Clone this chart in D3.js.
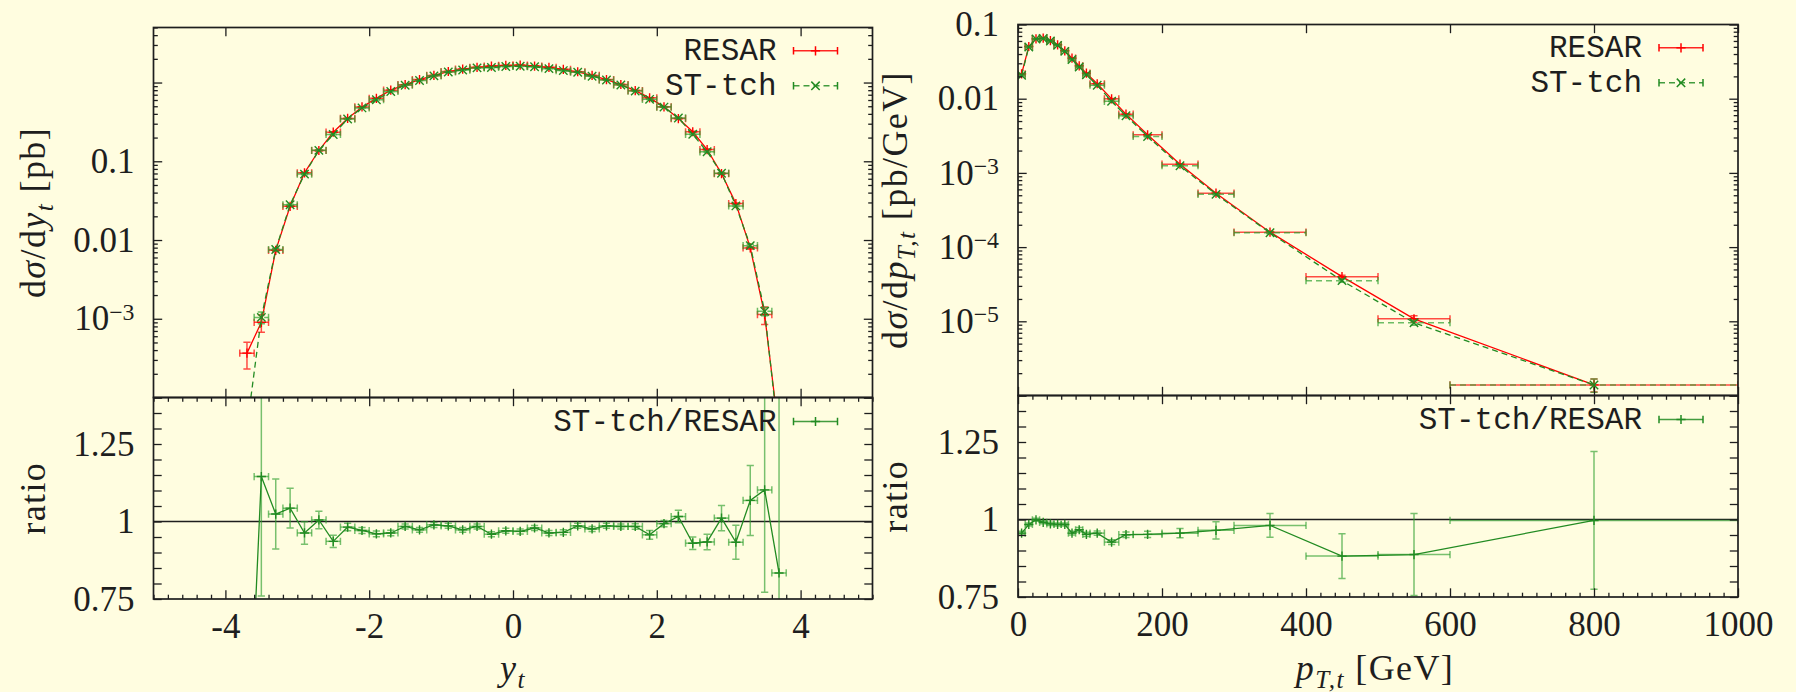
<!DOCTYPE html>
<html>
<head>
<meta charset="utf-8">
<script src="https://cdn.jsdelivr.net/npm/d3@7"></script>
<style>
  html, body { margin: 0; padding: 0; background: #fffde0; }
  svg { display: block; }
</style>
</head>
<body>
<svg id="chart" width="1796" height="692"></svg>
<script>
// ---------- rapidity distribution (bins of width 0.2) ----------
const rapCenters = [-3.7,-3.5,-3.3,-3.1,-2.9,-2.7,-2.5,-2.3,-2.1,-1.9,-1.7,-1.5,-1.3,-1.1,-0.9,-0.7,-0.5,-0.3,-0.1,
                    0.1,0.3,0.5,0.7,0.9,1.1,1.3,1.5,1.7,1.9,2.1,2.3,2.5,2.7,2.9,3.1,3.3,3.5,3.7];
const rapHalfWidth = 0.1;
const rapResar = [3.66e-4,9.0e-4,7.4e-3,0.0268,0.0713,0.137,0.234,0.350,0.490,0.630,0.800,0.940,1.09,1.23,1.38,1.48,1.56,1.62,1.65,
                  1.66,1.62,1.56,1.47,1.37,1.23,1.09,0.944,0.791,0.639,0.491,0.349,0.237,0.141,0.0698,0.0290,7.94e-3,1.13e-3,3.4e-5];
const rapResarErr = [0.37,0.25,0.04,0.02,0.015,0.012,0.01,0.008,0.006,0.005,0.005,0.005,0.005,0.005,0.005,0.005,0.005,0.005,0.005,
                     0.005,0.005,0.005,0.005,0.005,0.005,0.005,0.005,0.005,0.006,0.008,0.01,0.012,0.015,0.02,0.02,0.04,0.25,0.5];
const rapSttch = [4.2e-5,1.04e-3,7.58e-3,0.0280,0.0687,0.1377,0.219,0.344,0.476,0.605,0.770,0.925,1.061,1.216,1.361,1.440,1.535,1.554,1.600,
                  1.607,1.586,1.502,1.419,1.351,1.200,1.075,0.929,0.778,0.612,0.488,0.355,0.220,0.132,0.0706,0.0271,8.48e-3,1.245e-3,2.84e-5];
const rapSttchErr = [0.5,0.17,0.04,0.02,0.015,0.012,0.01,0.008,0.006,0.005,0.005,0.005,0.005,0.005,0.005,0.005,0.005,0.005,0.005,
                     0.005,0.005,0.005,0.005,0.005,0.005,0.005,0.005,0.005,0.006,0.008,0.01,0.012,0.015,0.02,0.02,0.04,0.12,0.5];
const rapRatio = [0.115,1.145,1.024,1.043,0.963,1.005,0.936,0.982,0.971,0.960,0.963,0.984,0.973,0.989,0.986,0.973,0.984,0.959,0.970,
                  0.968,0.979,0.963,0.965,0.986,0.976,0.986,0.984,0.984,0.957,0.993,1.016,0.930,0.934,1.011,0.933,1.068,1.102,0.834];
const rapRatioErr = [0.1,0.385,0.113,0.064,0.036,0.028,0.02,0.012,0.01,0.009,0.009,0.008,0.008,0.008,0.008,0.008,0.008,0.008,0.008,
                     0.008,0.008,0.008,0.008,0.008,0.008,0.008,0.008,0.009,0.014,0.01,0.02,0.02,0.025,0.041,0.055,0.113,0.33,1.0];

// ---------- transverse-momentum distribution ----------
const ptLow     = [0,10,20,30,40,50,60,70,80,90,100,120,140,160,200,250,300,400,500,600];
const ptHigh    = [10,20,30,40,50,60,70,80,90,100,120,140,160,200,250,300,400,500,600,1000];
const ptCenters = [5,15,25,35,45,55,65,75,85,95,110,130,150,180,225,275,350,450,550,800];
const ptResar = [0.0216,0.0505,0.0640,0.0655,0.0608,0.0533,0.0442,0.0352,0.0277,0.0221,0.0159,0.00996,0.00619,0.00326,
                 0.00131,5.33e-4,1.59e-4,4.0e-5,1.08e-5,1.39e-6];
const ptResarErr = [0.01,0.005,0.005,0.005,0.005,0.005,0.005,0.006,0.007,0.008,0.008,0.01,0.01,0.012,0.015,0.02,0.025,0.04,0.1,0.2];
const ptSttch = [0.0206,0.0497,0.0639,0.0649,0.0600,0.0524,0.0435,0.0337,0.0268,0.0210,0.0152,0.00923,0.00589,0.00310,
                 0.00125,5.14e-4,1.56e-4,3.53e-5,9.58e-6,1.386e-6];
const ptSttchErr = [0.01,0.005,0.005,0.005,0.005,0.005,0.005,0.006,0.007,0.008,0.008,0.01,0.01,0.012,0.015,0.02,0.03,0.05,0.08,0.2];
const ptRatio = [0.956,0.984,0.999,0.991,0.986,0.984,0.984,0.956,0.967,0.952,0.956,0.927,0.951,0.952,0.956,0.965,0.981,0.882,0.887,0.997];
const ptRatioErr = [0.006,0.005,0.005,0.005,0.005,0.005,0.005,0.006,0.007,0.007,0.007,0.008,0.009,0.01,0.015,0.028,0.038,0.072,0.132,0.222];

// ---------- axis ticks and labels ----------
const rapTicks = [-4,-2,0,2,4];
const rapTickLabels = ["-4","-2","0","2","4"];
const ptTicks = [0,200,400,600,800,1000];
const ptTickLabels = ["0","200","400","600","800","1000"];
const rapXsDecades = [1e-4,1e-3,0.01,0.1,1];
const rapXsTicks = [0.1,0.01,0.001];
const rapXsTickLabels = ["0.1","0.01","10^\u22123"];
const ptXsDecades = [1e-6,1e-5,1e-4,1e-3,0.01,0.1];
const ptXsTicks = [0.1,0.01,1e-3,1e-4,1e-5];
const ptXsTickLabels = ["0.1","0.01","10^\u22123","10^\u22124","10^\u22125"];
const ratioTicks = [0.75,1,1.25];
const ratioTickLabels = ["0.75","1","1.25"];

// ---------- styling ----------
const SERIF = "Liberation Serif, serif";
const MONO = "Liberation Mono, monospace";
const INK = "#1e1e1e";
const RED = "#ff0000";
const GREEN = "#228b22";
const BG = "#fffde0";

const svg = d3.select("#chart");
svg.append("rect").attr("width", 1796).attr("height", 692).attr("fill", BG);
const defs = svg.append("defs");

const LEFT  = {x0: 153.5, x1: 872.5, top: 27.5, mid: 397.5, bot: 599};
const RIGHT = {x0: 1018,  x1: 1738,  top: 24.5, mid: 395.5, bot: 597};

const xRap = d3.scaleLinear().domain([-5, 5]).range([LEFT.x0, LEFT.x1]);
const yRapXs = d3.scaleLog().domain([1e-4, 5]).range([LEFT.mid, LEFT.top]);
const yRapRatio = d3.scaleLinear().domain([0.75, 1.4]).range([LEFT.bot, LEFT.mid]);
const xPt = d3.scaleLinear().domain([0, 1000]).range([RIGHT.x0, RIGHT.x1]);
const yPtXs = d3.scaleLog().domain([1e-6, 0.1]).range([RIGHT.mid, RIGHT.top]);
const yPtRatio = d3.scaleLinear().domain([0.75, 1.4]).range([RIGHT.bot, RIGHT.mid]);

const MAJOR = 8.7, MINOR = 4.3;

function labeler(values, labels) {
  return d => { const i = values.indexOf(d); return i < 0 ? "" : labels[i]; };
}

function tickGroup(axisGen, scale, values, len, fmt, tr, pad) {
  const a = axisGen(scale).tickValues(values).tickSizeInner(-len).tickSizeOuter(0)
    .tickPadding(pad || 0).tickFormat(fmt || (() => ""));
  const s = svg.append("g").attr("transform", tr).call(a);
  s.select(".domain").remove();
  s.attr("font-family", SERIF).attr("font-size", 35);
  s.selectAll(".tick line").attr("stroke", INK).attr("stroke-width", 1.3);
  s.selectAll(".tick text").attr("fill", INK).each(function() {
    const t = d3.select(this);
    const str = t.text();
    if (str.includes("^")) {
      const [base, exp] = str.split("^");
      t.text("");
      t.append("tspan").text(base);
      t.append("tspan").attr("dy", "-0.45em").attr("font-size", "0.68em").text(exp);
    }
  });
  return s;
}

function frame(x0, x1, y0, y1) {
  svg.append("rect").attr("x", x0).attr("y", y0).attr("width", x1 - x0).attr("height", y1 - y0)
    .attr("fill", "none").attr("stroke", INK).attr("stroke-width", 1.7);
}

function clip(id, x0, x1, y0, y1) {
  defs.append("clipPath").attr("id", id).append("rect")
    .attr("x", x0).attr("y", y0).attr("width", x1 - x0).attr("height", y1 - y0);
  return svg.append("g").attr("clip-path", `url(#${id})`);
}

function plusPath(cx, cy, r) { return `M${cx - r},${cy}h${2 * r}M${cx},${cy - r}v${2 * r}`; }
function crossPath(cx, cy, r) { return `M${cx - r},${cy - r}l${2 * r},${2 * r}M${cx - r},${cy + r}l${2 * r},${-2 * r}`; }

// one data series: xy error bars, connecting line, point markers
function series(g, x, y, s) {
  const pts = s.xs.map((xv, i) => ({
    x: xv, xl: s.xl[i], xh: s.xh[i], v: s.v[i],
    lo: s.rel ? s.v[i] * (1 - s.err[i]) : s.v[i] - s.err[i],
    hi: s.rel ? s.v[i] * (1 + s.err[i]) : s.v[i] + s.err[i]
  }));
  const cap = 3.6;
  const eb = g.append("g").attr("fill", "none").attr("stroke", s.errColor || s.color)
    .attr("stroke-width", 1.5).attr("stroke-opacity", s.errOpacity);
  pts.forEach(p => {
    const cx = x(p.x), cy = y(p.v), ya = y(p.lo), yb = y(p.hi), xa = x(p.xl), xb = x(p.xh);
    eb.append("path").attr("d", `M${cx},${ya}V${yb}M${cx - cap},${ya}h${2 * cap}M${cx - cap},${yb}h${2 * cap}`);
    eb.append("path").attr("stroke-dasharray", s.dash || null)
      .attr("d", `M${xa},${cy}H${xb}`);
    eb.append("path").attr("d", `M${xa},${cy - cap}v${2 * cap}M${xb},${cy - cap}v${2 * cap}`);
  });
  const line = d3.line().x(p => x(p.x)).y(p => y(p.v));
  g.append("path").datum(pts).attr("d", line).attr("fill", "none")
    .attr("stroke", s.color).attr("stroke-width", 1.3).attr("stroke-dasharray", s.dash || null);
  g.append("g").selectAll("path").data(pts).join("path")
    .attr("d", p => s.marker === "cross" ? crossPath(x(p.x), y(p.v), 4.2) : plusPath(x(p.x), y(p.v), 4.6))
    .attr("fill", "none").attr("stroke", s.color).attr("stroke-width", 1.4);
}

function legendEntry(P, sy, label, style) {
  const xa = P.x1 - 79, xb = P.x1 - 35, xm = (xa + xb) / 2, cap = 3.8;
  svg.append("text").attr("x", P.x1 - 96).attr("y", sy + 9.5).attr("text-anchor", "end")
    .attr("font-family", MONO).attr("font-size", 31).attr("fill", INK).text(label);
  const g = svg.append("g").attr("fill", "none").attr("stroke", style.color).attr("stroke-width", 1.5);
  g.append("path").attr("d", `M${xa},${sy}H${xb}`).attr("stroke-dasharray", style.dash || null)
    .attr("stroke-opacity", 0.85);
  g.append("path").attr("d", `M${xa},${sy - cap}v${2 * cap}M${xb},${sy - cap}v${2 * cap}`);
  g.append("path").attr("d", style.marker === "cross" ? crossPath(xm, sy, 4.2) : plusPath(xm, sy, 4.6));
}

function richText(sel, parts, fs) {
  let shift = 0;
  parts.forEach(p => {
    const ts = sel.append("tspan").text(p.t);
    if (p.it) ts.attr("font-style", "italic");
    if (p.sub) {
      ts.attr("font-size", fs * 0.7).attr("dy", 8 - shift); shift = 8;
    } else if (shift) {
      ts.attr("dy", -shift); shift = 0;
    }
  });
}

function axisTitle(x, y, rot, parts) {
  const t = svg.append("text").attr("transform", `translate(${x},${y}) rotate(${rot})`)
    .attr("text-anchor", "middle").attr("font-family", SERIF).attr("font-size", 36)
    .attr("letter-spacing", 1.4).attr("fill", INK);
  richText(t, parts, 36);
}

// ---------- panel builders ----------
function crossSectionPanel(P, x, y, xTicks, decades, yTicks, yLabels, id) {
  const g = clip(id, P.x0, P.x1, P.top, P.mid);
  const minor = y.ticks().filter(v => !decades.some(d => Math.abs(v / d - 1) < 1e-9));
  tickGroup(d3.axisBottom, x, xTicks, MAJOR, null, `translate(0,${P.mid})`);
  tickGroup(d3.axisTop, x, xTicks, MAJOR, null, `translate(0,${P.top})`);
  tickGroup(d3.axisLeft, y, decades, MAJOR, labeler(yTicks, yLabels), `translate(${P.x0},0)`, 19);
  tickGroup(d3.axisLeft, y, minor, MINOR, null, `translate(${P.x0},0)`);
  tickGroup(d3.axisRight, y, decades, MAJOR, null, `translate(${P.x1},0)`);
  tickGroup(d3.axisRight, y, minor, MINOR, null, `translate(${P.x1},0)`);
  return g;
}

function ratioPanel(P, x, y, xTicks, xLabels, id) {
  const g = clip(id, P.x0, P.x1, P.mid, P.bot);
  const xMinor = x.ticks(50).filter(v => !xTicks.includes(v));
  const yAll = y.ticks(13);
  tickGroup(d3.axisBottom, x, xTicks, MAJOR, labeler(xTicks, xLabels), `translate(0,${P.bot})`, 14);
  tickGroup(d3.axisBottom, x, xMinor, MINOR, null, `translate(0,${P.bot})`);
  tickGroup(d3.axisTop, x, xTicks, MAJOR, null, `translate(0,${P.mid})`);
  tickGroup(d3.axisTop, x, xMinor, MINOR, null, `translate(0,${P.mid})`);
  tickGroup(d3.axisLeft, y, yAll, 8.2, labeler(ratioTicks, ratioTickLabels), `translate(${P.x0},0)`, 19);
  tickGroup(d3.axisRight, y, yAll, 8.2, null, `translate(${P.x1},0)`);
  g.append("line").attr("x1", P.x0).attr("x2", P.x1).attr("y1", y(1)).attr("y2", y(1))
    .attr("stroke", INK).attr("stroke-width", 1.3);
  return g;
}

// ---------- left: rapidity ----------
const rapLo = rapCenters.map(c => c - rapHalfWidth);
const rapHi = rapCenters.map(c => c + rapHalfWidth);

const gRap = crossSectionPanel(LEFT, xRap, yRapXs, rapTicks, rapXsDecades, rapXsTicks, rapXsTickLabels, "clipRapXs");
series(gRap, xRap, yRapXs, {xs: rapCenters, xl: rapLo, xh: rapHi, v: rapResar, err: rapResarErr, rel: true,
  color: RED, errOpacity: 0.7, marker: "plus"});
series(gRap, xRap, yRapXs, {xs: rapCenters, xl: rapLo, xh: rapHi, v: rapSttch, err: rapSttchErr, rel: true,
  color: GREEN, errColor: "#2f9f2f", errOpacity: 0.7, marker: "cross", dash: "6,4"});

const gRapR = ratioPanel(LEFT, xRap, yRapRatio, rapTicks, rapTickLabels, "clipRapRatio");
series(gRapR, xRap, yRapRatio, {xs: rapCenters, xl: rapLo, xh: rapHi, v: rapRatio, err: rapRatioErr, rel: false,
  color: GREEN, errColor: "#2f9f2f", errOpacity: 0.65, marker: "plus"});

// ---------- right: transverse momentum ----------
const gPt = crossSectionPanel(RIGHT, xPt, yPtXs, ptTicks, ptXsDecades, ptXsTicks, ptXsTickLabels, "clipPtXs");
series(gPt, xPt, yPtXs, {xs: ptCenters, xl: ptLow, xh: ptHigh, v: ptResar, err: ptResarErr, rel: true,
  color: RED, errOpacity: 0.7, marker: "plus"});
series(gPt, xPt, yPtXs, {xs: ptCenters, xl: ptLow, xh: ptHigh, v: ptSttch, err: ptSttchErr, rel: true,
  color: GREEN, errColor: "#2f9f2f", errOpacity: 0.7, marker: "cross", dash: "6,4"});

const gPtR = ratioPanel(RIGHT, xPt, yPtRatio, ptTicks, ptTickLabels, "clipPtRatio");
series(gPtR, xPt, yPtRatio, {xs: ptCenters, xl: ptLow, xh: ptHigh, v: ptRatio, err: ptRatioErr, rel: false,
  color: GREEN, errColor: "#2f9f2f", errOpacity: 0.65, marker: "plus"});

// ---------- frames ----------
frame(LEFT.x0, LEFT.x1, LEFT.top, LEFT.mid);
frame(LEFT.x0, LEFT.x1, LEFT.mid, LEFT.bot);
frame(RIGHT.x0, RIGHT.x1, RIGHT.top, RIGHT.mid);
frame(RIGHT.x0, RIGHT.x1, RIGHT.mid, RIGHT.bot);

// ---------- keys ----------
legendEntry(LEFT, LEFT.top + 23.3, "RESAR", {color: RED, marker: "plus"});
legendEntry(LEFT, LEFT.top + 58.3, "ST-tch", {color: GREEN, marker: "cross", dash: "6,4"});
legendEntry(LEFT, LEFT.mid + 24, "ST-tch/RESAR", {color: GREEN, marker: "plus"});
legendEntry(RIGHT, RIGHT.top + 23.3, "RESAR", {color: RED, marker: "plus"});
legendEntry(RIGHT, RIGHT.top + 58.3, "ST-tch", {color: GREEN, marker: "cross", dash: "6,4"});
legendEntry(RIGHT, RIGHT.mid + 24, "ST-tch/RESAR", {color: GREEN, marker: "plus"});

// ---------- axis titles ----------
axisTitle(45, (LEFT.top + LEFT.mid) / 2, -90,
  [{t: "d"}, {t: "\u03c3", it: true}, {t: "/d"}, {t: "y", it: true}, {t: "t", it: true, sub: true}, {t: " [pb]"}]);
axisTitle(45, (LEFT.mid + LEFT.bot) / 2, -90, [{t: "ratio"}]);
axisTitle(907, (RIGHT.top + RIGHT.mid) / 2, -90,
  [{t: "d"}, {t: "\u03c3", it: true}, {t: "/d"}, {t: "p", it: true}, {t: "T,t", it: true, sub: true}, {t: " [pb/GeV]"}]);
axisTitle(907, (RIGHT.mid + RIGHT.bot) / 2, -90, [{t: "ratio"}]);
axisTitle(xRap(0), 680, 0, [{t: "y", it: true}, {t: "t", it: true, sub: true}]);
axisTitle(1375, 680, 0, [{t: "p", it: true}, {t: "T,t", it: true, sub: true}, {t: " [GeV]"}]);
</script>
</body>
</html>
